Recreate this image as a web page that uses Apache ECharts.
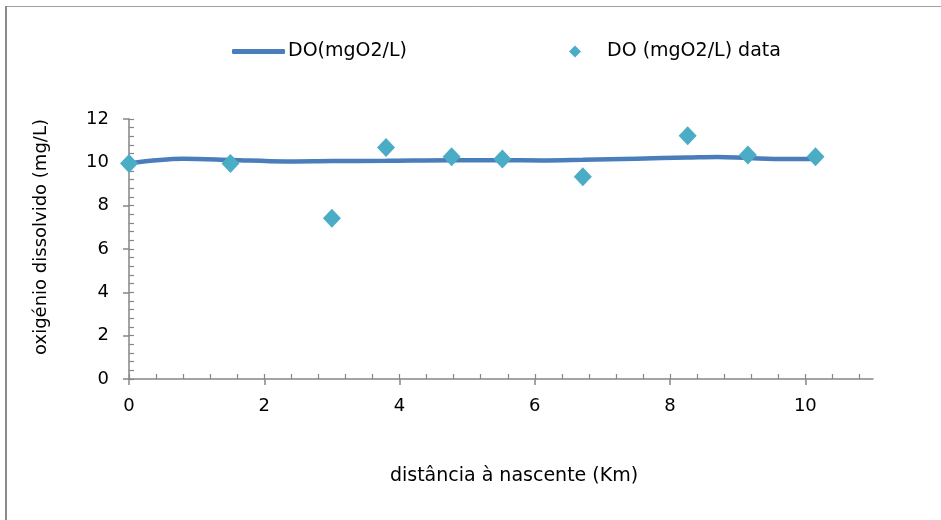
<!DOCTYPE html>
<html>
<head>
<meta charset="utf-8">
<title>Oxigénio dissolvido</title>
<script src="https://cdn.jsdelivr.net/npm/echarts@6/dist/echarts.min.js"></script>
<style>
  html, body { margin: 0; padding: 0; background: #ffffff; }
  #chart { width: 941px; height: 520px; }
</style>
</head>
<body>
<div id="chart"></div>
<script>
// Measured dissolved oxygen along the river (km from source, mg/L)
const measuredKm = [0, 1.5, 3.0, 3.8, 4.77, 5.52, 6.71, 8.26, 9.15, 10.15];
const measuredDO = [9.95, 9.95, 7.42, 10.69, 10.26, 10.15, 9.34, 11.23, 10.34, 10.26];

// Modelled DO profile
const modelKm = [0, 0.8, 1.5, 2.3, 3.0, 3.8, 4.77, 5.52, 6.1, 6.71, 7.5, 8.26, 8.7, 9.15, 9.7, 10.15];
const modelDO = [9.95, 10.16, 10.11, 10.04, 10.06, 10.07, 10.1, 10.1, 10.09, 10.12, 10.17, 10.22, 10.25, 10.2, 10.15, 10.15];

// Axis ticks
const xMajorTicks = [0, 2, 4, 6, 8, 10];
const xMinorTicks = [0, 0.4, 0.8, 1.2, 1.6, 2, 2.4, 2.8, 3.2, 3.6, 4, 4.4, 4.8, 5.2, 5.6, 6,
                     6.4, 6.8, 7.2, 7.6, 8, 8.4, 8.8, 9.2, 9.6, 10, 10.4, 10.8];
const yMajorTicks = [0, 2, 4, 6, 8, 10, 12];

const seriesNames = ['DO(mgO2/L)', 'DO (mgO2/L) data'];
const xTitle = 'distância à nascente (Km)';
const yTitle = 'oxigénio dissolvido (mg/L)';

const FONT = 'DejaVu Sans';
const AXIS_COLOR = '#868686';
const LINE_COLOR = '#4a7ebb';
const POINT_COLOR = '#4bacc6';

const chart = echarts.init(document.getElementById('chart'), null, { renderer: 'canvas' });

const baseX = {
  type: 'value', min: 0, max: 11, interval: 2,
  splitLine: { show: false }
};
const baseY = {
  type: 'value', min: 0, max: 12, interval: 2,
  splitLine: { show: false }
};

chart.setOption({
  animation: false,
  backgroundColor: '#ffffff',
  textStyle: { fontFamily: FONT },
  grid: { left: 129, right: 68, top: 119, bottom: 141, containLabel: false },
  graphic: [{
    type: 'rect',
    shape: { x: 6.5, y: 6.5, width: 1000, height: 600 },
    style: { fill: 'none', stroke: '#a0a0a0', lineWidth: 1 },
    silent: true, z: -10
  }, {
    type: 'line',
    shape: { x1: 6, y1: 6, x2: 6, y2: 600 },
    style: { stroke: '#8a8a8a', lineWidth: 2 },
    silent: true, z: -10
  }],
  legend: [{
    data: [seriesNames[0]],
    left: 232, top: 42,
    padding: 0,
    icon: 'roundRect',
    itemWidth: 53, itemHeight: 5,
    itemGap: 0,
    textStyle: { fontFamily: FONT, fontSize: 19, color: '#000', padding: [0, 0, 0, -2] }
  }, {
    data: [seriesNames[1]],
    left: 569, top: 42,
    padding: 0,
    icon: 'diamond',
    itemWidth: 12, itemHeight: 12,
    textStyle: { fontFamily: FONT, fontSize: 19, color: '#000', padding: [0, 0, 0, 21] }
  }],
  xAxis: [
    Object.assign({}, baseX, {
      position: 'bottom',
      name: xTitle,
      nameLocation: 'middle',
      nameGap: 88,
      nameTextStyle: { fontFamily: FONT, fontSize: 19, color: '#000', padding: [0, 0, 0, 26] },
      axisLine: { show: true, lineStyle: { color: AXIS_COLOR, width: 1.5 } },
      axisTick: { show: true, inside: false, length: 6, customValues: xMajorTicks,
                  lineStyle: { color: AXIS_COLOR, width: 1.5 } },
      axisLabel: { customValues: xMajorTicks, margin: 18,
                   fontFamily: FONT, fontSize: 18, color: '#000' }
    }),
    Object.assign({}, baseX, {
      position: 'bottom',
      axisLine: { show: false },
      axisTick: { show: true, inside: true, length: 5, customValues: xMinorTicks,
                  lineStyle: { color: AXIS_COLOR, width: 1.2 } },
      axisLabel: { show: false }
    })
  ],
  yAxis: [
    Object.assign({}, baseY, {
      position: 'left',
      name: yTitle,
      nameLocation: 'middle',
      nameGap: 79,
      nameRotate: 90,
      nameTextStyle: { fontFamily: FONT, fontSize: 18, color: '#000', padding: [0, 0, 0, 24] },
      axisLine: { show: true, lineStyle: { color: AXIS_COLOR, width: 1.5 } },
      axisTick: { show: true, inside: false, length: 6, customValues: yMajorTicks,
                  lineStyle: { color: AXIS_COLOR, width: 1.5 } },
      axisLabel: { customValues: yMajorTicks, margin: 20,
                   fontFamily: FONT, fontSize: 18, color: '#000' }
    }),
    Object.assign({}, baseY, {
      position: 'left',
      axisLine: { show: false },
      axisTick: { show: true, inside: true, length: 5,
                  lineStyle: { color: AXIS_COLOR, width: 1.2 } },
      minorTick: { show: true, splitNumber: 5, length: 5,
                   lineStyle: { color: AXIS_COLOR, width: 1.2 } },
      axisLabel: { show: false }
    })
  ],
  series: [{
    name: seriesNames[0],
    type: 'line',
    xAxisIndex: 0, yAxisIndex: 0,
    data: modelKm.map((k, i) => [k, modelDO[i]]),
    smooth: 0.35,
    symbol: 'none',
    color: LINE_COLOR,
    lineStyle: { color: LINE_COLOR, width: 4.5, cap: 'round' },
    z: 2
  }, {
    name: seriesNames[1],
    type: 'scatter',
    xAxisIndex: 0, yAxisIndex: 0,
    data: measuredKm.map((k, i) => [k, measuredDO[i]]),
    symbol: 'diamond',
    symbolSize: [18, 19],
    color: POINT_COLOR,
    itemStyle: { color: POINT_COLOR, opacity: 1 },
    z: 3
  }]
});
</script>
</body>
</html>
